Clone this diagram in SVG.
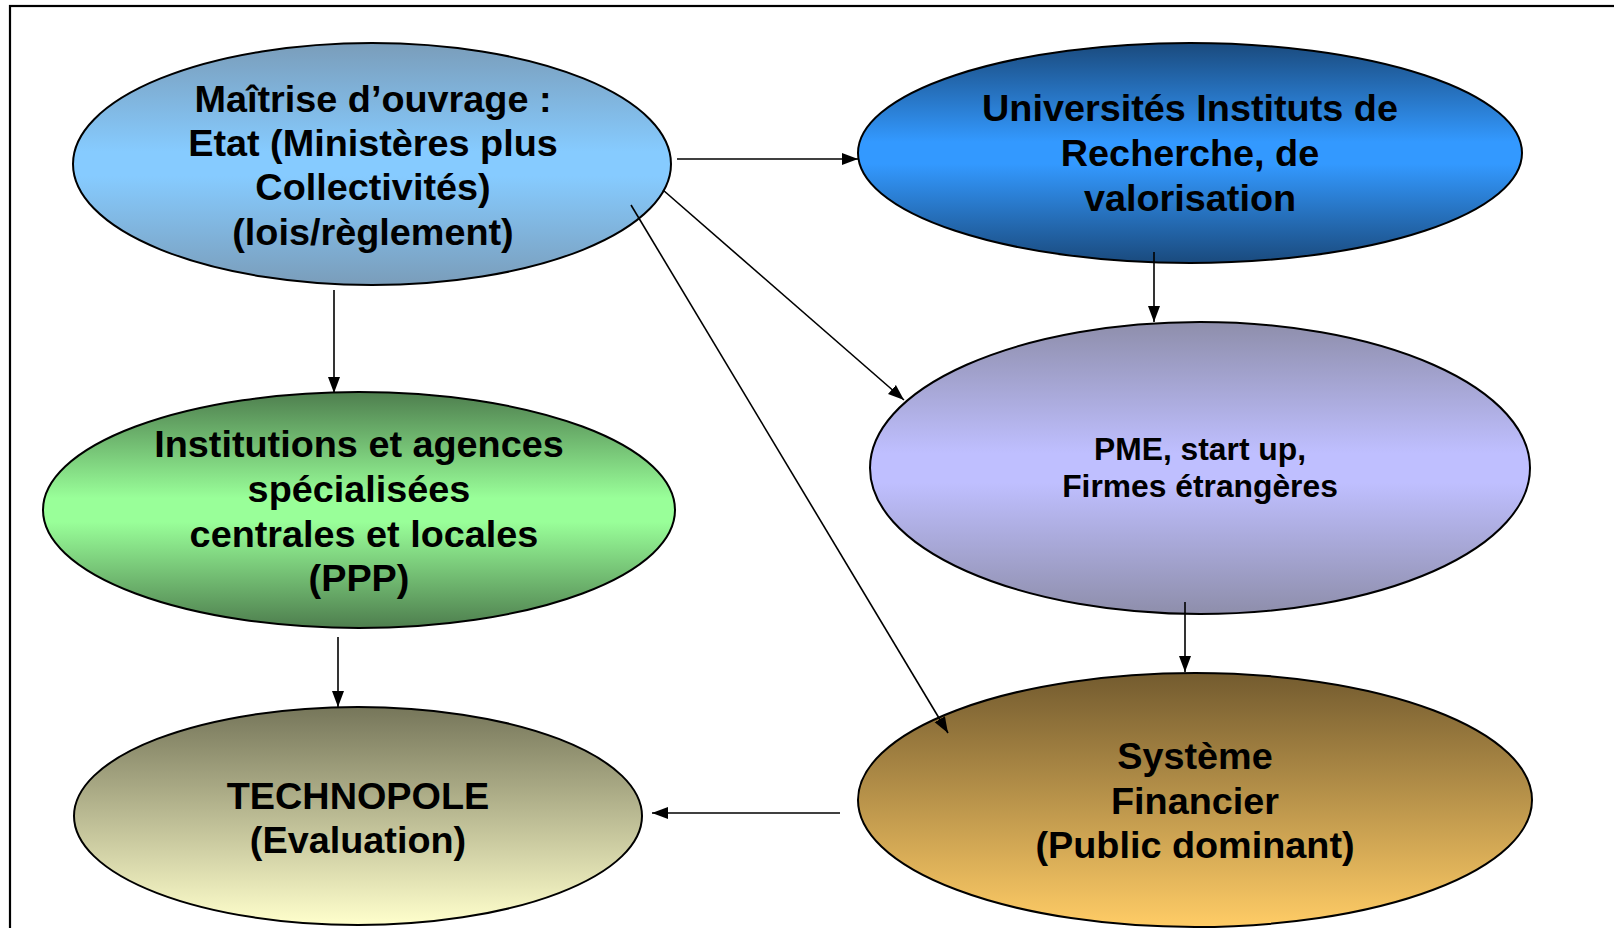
<svg xmlns="http://www.w3.org/2000/svg" width="1614" height="928" viewBox="0 0 1614 928">
<style>
.node{stroke:#000;stroke-width:2}
.t{font-family:"Liberation Sans",Arial,sans-serif;font-weight:bold;font-size:37.8px;fill:#000;text-anchor:middle}
.ts{font-size:31.8px}
.c{stroke:#000;stroke-width:1.6;fill:none;marker-end:url(#ah)}
</style>
<defs>
<marker id="ah" markerUnits="userSpaceOnUse" markerWidth="18" markerHeight="14" refX="16" refY="6" orient="auto">
<path d="M0,0 L16,6 L0,12 Z" fill="#000"/>
</marker>
<linearGradient id="g1" x1="0" y1="0" x2="0" y2="1">
<stop offset="0" stop-color="#7a9dba"/><stop offset="0.45" stop-color="#86cbff"/><stop offset="0.55" stop-color="#86cbff"/><stop offset="1" stop-color="#7a9dba"/>
</linearGradient>
<linearGradient id="g2" x1="0" y1="0" x2="0" y2="1">
<stop offset="0" stop-color="#1a4a7d"/><stop offset="0.45" stop-color="#3399ff"/><stop offset="0.55" stop-color="#3399ff"/><stop offset="1" stop-color="#1a4a7d"/>
</linearGradient>
<linearGradient id="g3" x1="0" y1="0" x2="0" y2="1">
<stop offset="0" stop-color="#4e7e4e"/><stop offset="0.45" stop-color="#99ff99"/><stop offset="0.55" stop-color="#99ff99"/><stop offset="1" stop-color="#4e7e4e"/>
</linearGradient>
<linearGradient id="g4" x1="0" y1="0" x2="0" y2="1">
<stop offset="0" stop-color="#8e8eab"/><stop offset="0.45" stop-color="#bfbfff"/><stop offset="0.55" stop-color="#bfbfff"/><stop offset="1" stop-color="#8e8eab"/>
</linearGradient>
<linearGradient id="g5" x1="0" y1="0" x2="0" y2="1">
<stop offset="0" stop-color="#76765a"/><stop offset="1" stop-color="#ffffcc"/>
</linearGradient>
<linearGradient id="g6" x1="0" y1="0" x2="0" y2="1">
<stop offset="0" stop-color="#735b2f"/><stop offset="1" stop-color="#ffcc66"/>
</linearGradient>
</defs>
<rect x="0" y="0" width="1614" height="928" fill="#fff"/>
<rect x="10" y="6" width="1640" height="960" fill="none" stroke="#000" stroke-width="2.2"/>

<g id="n-maitrise">
<ellipse class="node" cx="372" cy="164" rx="299" ry="121" fill="url(#g1)"/>
<text class="t" x="373" y="112">Maîtrise d’ouvrage :</text>
<text class="t" x="373" y="156">Etat (Ministères plus</text>
<text class="t" x="373" y="200">Collectivités)</text>
<text class="t" x="373" y="245">(lois/règlement)</text>
</g>
<g id="n-universites">
<ellipse class="node" cx="1190" cy="153" rx="332" ry="110" fill="url(#g2)"/>
<text class="t" x="1190" y="121">Universités Instituts de</text>
<text class="t" x="1190" y="166">Recherche, de</text>
<text class="t" x="1190" y="211">valorisation</text>
</g>
<g id="n-institutions">
<ellipse class="node" cx="359" cy="510" rx="316" ry="118" fill="url(#g3)"/>
<text class="t" x="359" y="457">Institutions et agences</text>
<text class="t" x="359" y="502">spécialisées</text>
<text class="t" x="364" y="547">centrales et locales</text>
<text class="t" x="359" y="591">(PPP)</text>
</g>
<g id="n-pme">
<ellipse class="node" cx="1200" cy="468" rx="330" ry="146" fill="url(#g4)"/>
<text class="t ts" x="1200" y="460">PME, start up,</text>
<text class="t ts" x="1200" y="497">Firmes étrangères</text>
</g>
<g id="n-technopole">
<ellipse class="node" cx="358" cy="816" rx="284" ry="109" fill="url(#g5)"/>
<text class="t" x="358" y="809">TECHNOPOLE</text>
<text class="t" x="358" y="853">(Evaluation)</text>
</g>
<g id="n-systeme">
<ellipse class="node" cx="1195" cy="800" rx="337" ry="127" fill="url(#g6)"/>
<text class="t" x="1195" y="769">Système</text>
<text class="t" x="1195" y="814">Financier</text>
<text class="t" x="1195" y="858">(Public dominant)</text>
</g>

<g id="connectors">
<line class="c" x1="677" y1="159" x2="858" y2="159"/>
<line class="c" x1="663" y1="190" x2="904" y2="400"/>
<line class="c" x1="631" y1="205" x2="948" y2="733"/>
<line class="c" x1="334" y1="290" x2="334" y2="393"/>
<line class="c" x1="1154" y1="252" x2="1154" y2="322"/>
<line class="c" x1="1185" y1="602" x2="1185" y2="672"/>
<line class="c" x1="338" y1="637" x2="338" y2="707"/>
<line class="c" x1="840" y1="813" x2="652" y2="813"/>
</g>
</svg>
